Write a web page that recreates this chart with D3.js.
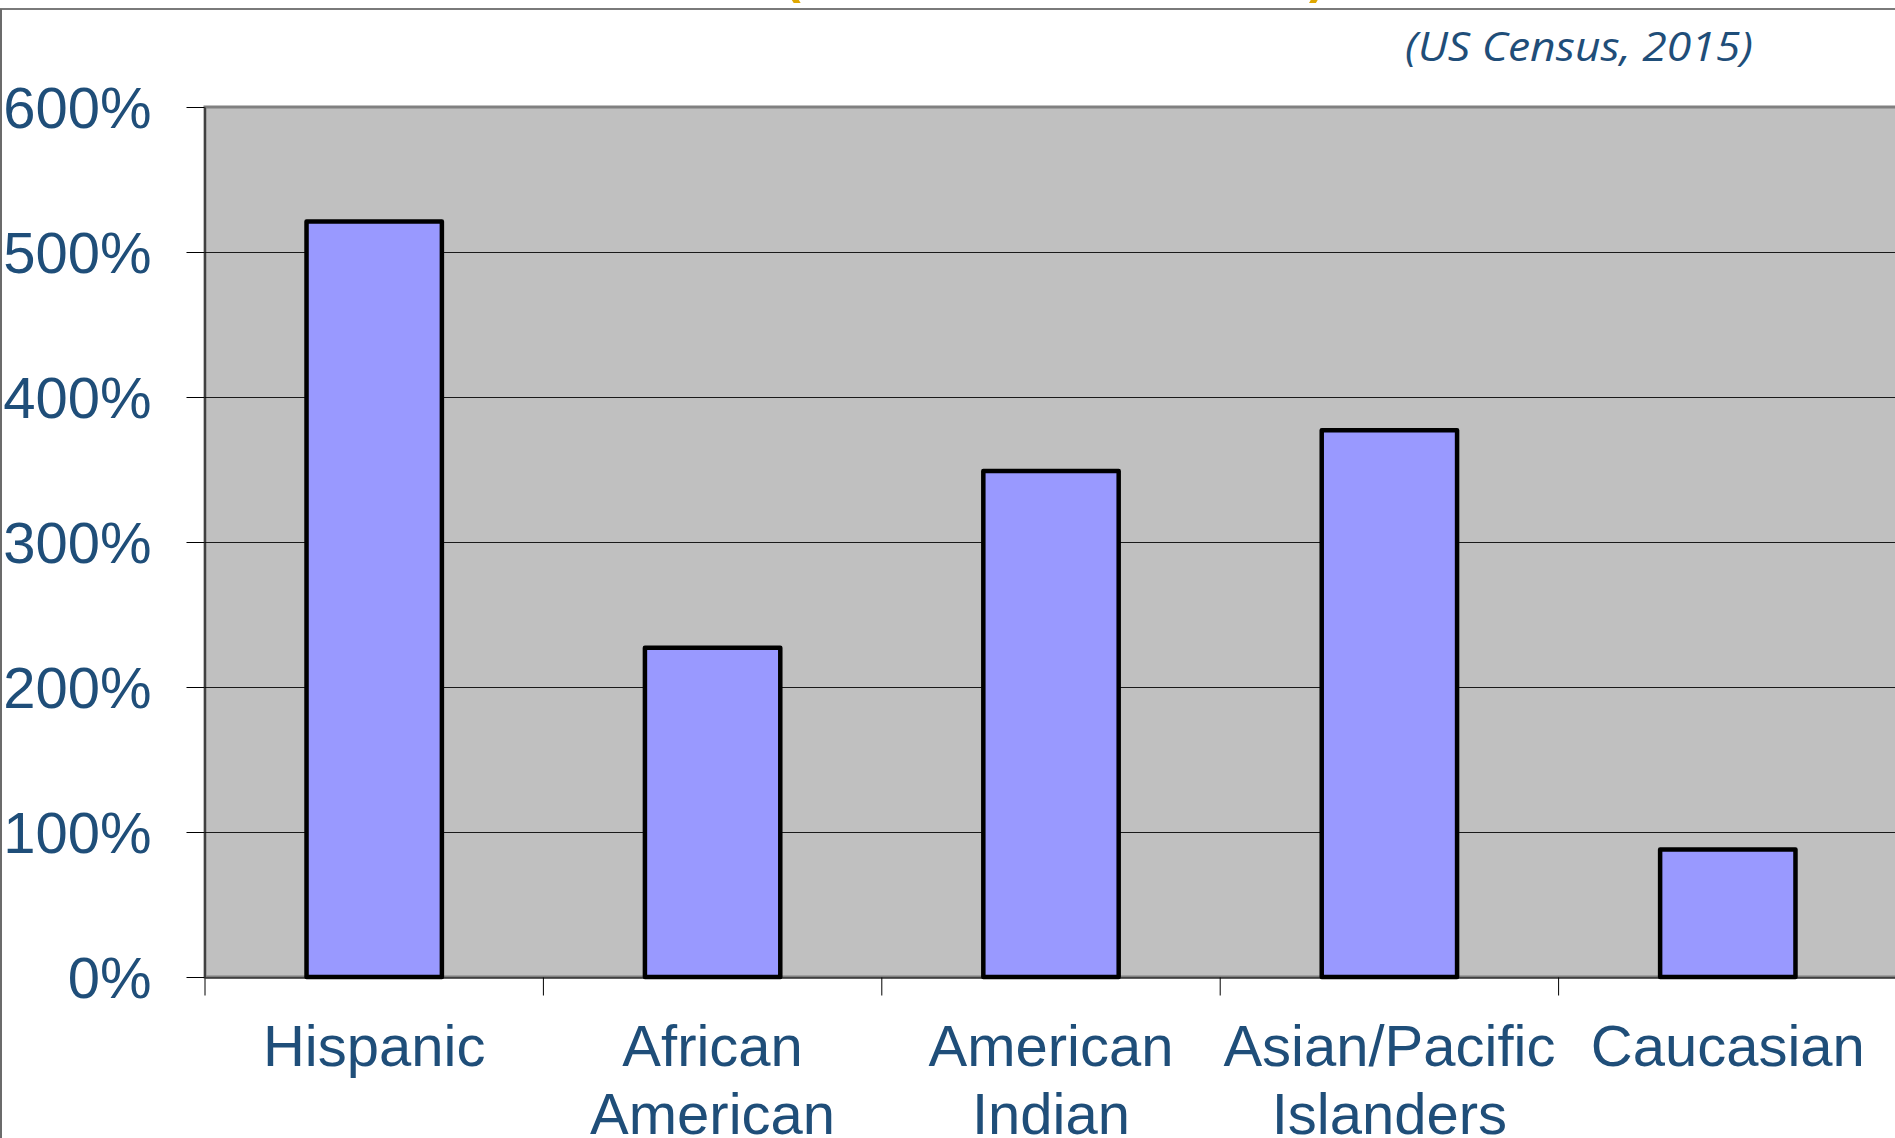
<!DOCTYPE html>
<html>
<head>
<meta charset="utf-8">
<script src="https://cdn.jsdelivr.net/npm/d3@7"></script>
<style>
  html, body { margin: 0; padding: 0; background: #ffffff; overflow: hidden; }
  svg { display: block; }
</style>
</head>
<body>
<svg id="chart" width="1895" height="1138"></svg>
<script>
// Projected population growth by group, percent
const categories = ["Hispanic", "African American", "American Indian", "Asian/Pacific Islanders", "Caucasian"];
const categoryLines = [["Hispanic"], ["African", "American"], ["American", "Indian"], ["Asian/Pacific", "Islanders"], ["Caucasian"]];
const growthPct = [521, 227, 349, 377, 88];
const yTicks = [0, 100, 200, 300, 400, 500, 600];
const sourceNote = "(US Census, 2015)";

const W = 1895, H = 1138;
const plot = { left: 205, top: 107, right: 1897, bottom: 977 };
const textBlue = "#1f4e79";

const svg = d3.select("#chart");

// Outer slide frame
svg.append("line").attr("x1", 0).attr("x2", W).attr("y1", 9).attr("y2", 9)
  .attr("stroke", "#7a7a7a").attr("stroke-width", 2);
svg.append("line").attr("x1", 1).attr("x2", 1).attr("y1", 9).attr("y2", H)
  .attr("stroke", "#6b6b6b").attr("stroke-width", 2);

// Title parentheses hanging from above the frame
svg.append("text").attr("x", 784).attr("y", -7).text("(")
  .attr("font-family", "Liberation Sans, Arial, sans-serif").attr("font-weight", "bold")
  .attr("font-size", 50).attr("fill", "#dfa700");
svg.append("text").attr("x", 1309).attr("y", -7).text(")")
  .attr("font-family", "Liberation Sans, Arial, sans-serif").attr("font-weight", "bold")
  .attr("font-size", 50).attr("fill", "#dfa700");

// Source note
svg.append("text")
  .attr("x", 1405).attr("y", 61)
  .attr("font-family", "Open Sans, sans-serif").attr("font-style", "italic")
  .attr("font-size", 40).attr("fill", textBlue)
  .attr("textLength", 348).attr("lengthAdjust", "spacingAndGlyphs")
  .text(sourceNote);

// Scales
const x = d3.scaleBand().domain(categories).range([plot.left, plot.right]).padding(0);
const y = d3.scaleLinear().domain([0, 600]).range([plot.bottom, plot.top]);

// Plot area
svg.append("rect")
  .attr("x", plot.left).attr("y", plot.top)
  .attr("width", plot.right - plot.left + 10).attr("height", plot.bottom - plot.top)
  .attr("fill", "#c0c0c0").attr("stroke", "#808080").attr("stroke-width", 3);

// Horizontal gridlines
svg.append("g").selectAll("line")
  .data(yTicks.filter(d => d > 0 && d < 600))
  .join("line")
  .attr("x1", plot.left).attr("x2", W)
  .attr("y1", d => Math.round(y(d)) + 0.5).attr("y2", d => Math.round(y(d)) + 0.5)
  .attr("stroke", "#1a1a1a").attr("stroke-width", 1);

// Bars
const barW = x.bandwidth() * 0.4;
svg.append("g").selectAll("rect")
  .data(categories.map((c, i) => ({ c, v: growthPct[i] })))
  .join("rect")
  .attr("x", d => x(d.c) + (x.bandwidth() - barW) / 2)
  .attr("y", d => y(d.v))
  .attr("width", barW)
  .attr("height", d => y(0) - y(d.v))
  .attr("fill", "#9999ff")
  .attr("stroke", "#000").attr("stroke-width", 4.5).attr("stroke-linejoin", "round");

// Y axis
const yAxis = svg.append("g")
  .attr("transform", `translate(${plot.left - 0.5},0)`)
  .call(d3.axisLeft(y).tickValues(yTicks).tickFormat(d => d + "%").tickSize(18).tickSizeOuter(0).tickPadding(35));
yAxis.select(".domain").attr("stroke", "#000");
yAxis.selectAll(".tick line").attr("stroke", "#000");
yAxis.selectAll(".tick text")
  .attr("font-family", "Liberation Sans, Arial, sans-serif")
  .attr("font-size", 58).attr("fill", textBlue).attr("dy", "0.36em");

// X axis: boundary ticks between categories
const boundaries = categories.map(c => x(c)).concat([plot.right]);
const bx = d3.scaleLinear().domain([0, categories.length]).range([plot.left, plot.right]);
const xAxis = svg.append("g")
  .attr("transform", `translate(0,${plot.bottom + 0.5})`)
  .call(d3.axisBottom(bx).tickValues(d3.range(categories.length + 1)).tickSize(18).tickSizeOuter(0).tickFormat(""));
xAxis.select(".domain").attr("stroke", "#000");
xAxis.selectAll(".tick line").attr("stroke", "#000")
  .attr("transform", (d, i) => `translate(${boundaries[i] - bx(d) - 0.5},0)`);

// Category labels
const labels = svg.append("g")
  .attr("font-family", "Liberation Sans, Arial, sans-serif")
  .attr("font-size", 58).attr("fill", textBlue).attr("text-anchor", "middle");
labels.selectAll("text")
  .data(categories)
  .join("text")
  .attr("transform", d => `translate(${x(d) + x.bandwidth() / 2},1066)`)
  .each(function (d, i) {
    d3.select(this).selectAll("tspan")
      .data(categoryLines[i])
      .join("tspan")
      .attr("x", 0)
      .attr("y", (t, j) => j * 68)
      .text(t => t);
  });
</script>
</body>
</html>
